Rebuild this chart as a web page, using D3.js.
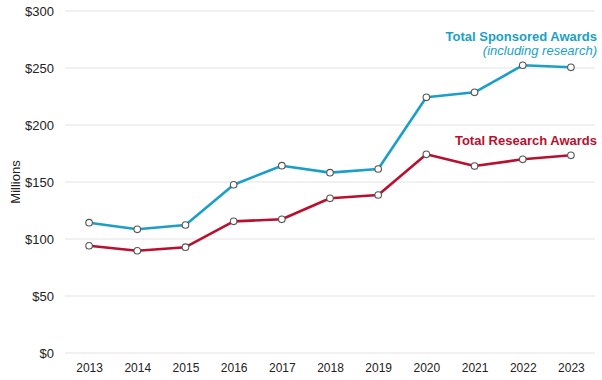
<!DOCTYPE html>
<html><head><meta charset="utf-8">
<script src="https://cdn.jsdelivr.net/npm/d3@7"></script>
<style>body{margin:0;background:#fff}svg{display:block}</style>
</head><body>
<svg id="c" width="602" height="380"></svg>
<script>
const years = ["2013","2014","2015","2016","2017","2018","2019","2020","2021","2022","2023"];
const sponsored = [114.3,108.5,112.3,147.6,164.3,158.2,161.4,224.3,228.7,252.4,250.6];
const research = [94.1,89.7,92.8,115.5,117.3,135.7,138.6,174.3,164.0,169.9,173.4];
const yTicks = [0,50,100,150,200,250,300];

const svg = d3.select("#c");
const font = "'Liberation Sans', Arial, sans-serif";
const x = d3.scalePoint().domain(years).range([65,595]).padding(0.5);
const y = d3.scaleLinear().domain([0,300]).range([353,11]);

const grid = svg.append("g");
grid.selectAll("line").data(yTicks).join("line")
  .attr("x1",65).attr("x2",595).attr("y1",d=>y(d)).attr("y2",d=>y(d))
  .attr("stroke","#e3e3e3").attr("stroke-width",1.2);

const yAxis = svg.append("g").attr("transform","translate(60,0)")
  .attr("font-size",13).attr("font-family",font)
  .call(d3.axisLeft(y).tickValues(yTicks).tickSize(0).tickPadding(6).tickFormat(d=>"$"+d));
yAxis.select(".domain").remove();
yAxis.attr("font-size",13).attr("font-family",font);
yAxis.selectAll("text").style("font-size","13px").style("font-family",font).attr("fill","#222");

const xAxis = svg.append("g").attr("transform","translate(0,360)")
  .call(d3.axisBottom(x).tickSize(0).tickPadding(3));
xAxis.select(".domain").remove();
xAxis.selectAll("text").style("font-size","12px").style("font-family",font).attr("fill","#222");

svg.append("text").attr("transform","translate(20,"+y(150)+") rotate(-90)")
  .attr("text-anchor","middle").style("font-family",font).style("font-size","13px").attr("fill","#222")
  .text("Millions");

const series = [{vals:sponsored,color:"#1b9fc6"},{vals:research,color:"#b8102e"}];
const line = d3.line().x((d,i)=>x(years[i])).y(d=>y(d));
series.forEach(s=>{
  svg.append("path").attr("d",line(s.vals)).attr("fill","none")
    .attr("stroke",s.color).attr("stroke-width",2.6).attr("stroke-linejoin","round");
});
series.forEach(s=>{
  svg.append("g").selectAll("circle").data(s.vals).join("circle")
    .attr("cx",(d,i)=>x(years[i])).attr("cy",d=>y(d)).attr("r",3.3)
    .attr("fill","#fff").attr("stroke","#555").attr("stroke-width",1.1);
});

svg.append("text").attr("x",597).attr("y",41).attr("text-anchor","end")
  .style("font-family",font).style("font-size","13px").attr("font-weight","bold").attr("fill","#1b9fc6")
  .text("Total Sponsored Awards");
svg.append("text").attr("x",597).attr("y",55).attr("text-anchor","end")
  .style("font-family",font).style("font-size","13px").attr("font-style","italic").attr("fill","#1b9fc6")
  .text("(including research)");
svg.append("text").attr("x",597).attr("y",145).attr("text-anchor","end")
  .style("font-family",font).style("font-size","13px").attr("font-weight","bold").attr("fill","#b8102e")
  .text("Total Research Awards");
</script>
</body></html>
